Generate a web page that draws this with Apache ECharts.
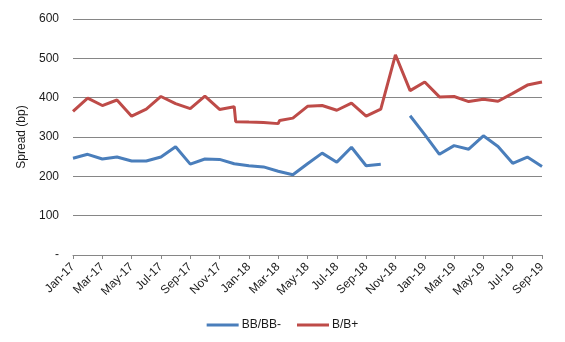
<!DOCTYPE html>
<html>
<head>
<meta charset="utf-8">
<script src="https://cdn.jsdelivr.net/npm/echarts@6/dist/echarts.min.js"></script>
<style>
html,body{margin:0;padding:0;background:#fff;}
#chart{width:565px;height:342px;}
</style>
</head>
<body>
<div id="chart"></div>
<script>
// x positions are months since Jan-17 (fractional values mark near-duplicate dates)
var tickLabels = ['Jan-17','Mar-17','May-17','Jul-17','Sep-17','Nov-17','Jan-18','Mar-18','May-18','Jul-18','Sep-18','Nov-18','Jan-19','Mar-19','May-19','Jul-19','Sep-19'];

var bbMonths = [0,1,2,3,4,5,6,7,8,9,10,11,11.1,12,13,14,14.1,15,16,17,18,19,20,21,22,23,24,25,26,27,28,29,30,31,32];
var bbValues = [246,256,244,249,239,239,249,275,231,244,243,232,229,227,224,213,216,204,232,259,236,274,227,231,null,354,306,256,278,269,303,276,233,249,225];

var bMonths = [0,1,2,3,4,5,6,7,8,9,10,11,11.1,12,13,14,14.1,15,16,17,18,19,20,21,22,23,24,25,26,27,28,29,30,31,32];
var bValues = [365,399,380,394,353,371,403,385,372,404,370,377,339,338,337,334,342,348,378,380,368,386,353,371,509,418,440,402,403,390,396,391,411,432,440];

function pairs(xs, ys){
  return xs.map(function(x,i){ return [x, ys[i] === null ? '-' : ys[i]]; });
}

var chart = echarts.init(document.getElementById('chart'), null, {renderer:'canvas'});
var font = 'Arial, "Liberation Sans", sans-serif';
chart.setOption({
  animation:false,
  backgroundColor:'#fff',
  textStyle:{fontFamily:font},
  grid:{left:73, right:23, top:19, bottom:87, containLabel:false},
  legend:{
    bottom:6, left:'center',
    icon:'rect',
    itemWidth:32, itemHeight:3, itemGap:16,
    textStyle:{fontFamily:font, fontSize:12, color:'#1a1a1a', padding:[0,0,0,-2]},
    data:['BB/BB-','B/B+']
  },
  xAxis:{
    type:'value', min:0, max:32, interval:2,
    axisLine:{show:true, lineStyle:{color:'#868686', width:1}},
    axisTick:{show:true, length:4, lineStyle:{color:'#868686'}},
    splitLine:{show:false},
    axisLabel:{
      rotate:45, margin:10, fontSize:12, color:'#1a1a1a', fontFamily:font,
      formatter:function(v){ return tickLabels[Math.round(v/2)] || ''; }
    }
  },
  yAxis:{
    type:'value', min:0, max:600, interval:100,
    name:'Spread (bp)', nameLocation:'middle', nameGap:44, nameRotate:90,
    nameTextStyle:{fontSize:12, color:'#1a1a1a', fontFamily:font},
    axisLine:{show:false},
    axisTick:{show:false},
    splitLine:{show:true, lineStyle:{color:'#868686', width:1}},
    axisLabel:{
      margin:14, fontSize:12, color:'#1a1a1a', fontFamily:font,
      formatter:function(v){ return v === 0 ? '-' : String(v); }
    }
  },
  series:[
    {name:'BB/BB-', type:'line', data:pairs(bbMonths, bbValues), symbol:'none', connectNulls:false,
     lineStyle:{color:'#4a7ebb', width:3}, itemStyle:{color:'#4a7ebb'}},
    {name:'B/B+', type:'line', data:pairs(bMonths, bValues), symbol:'none',
     lineStyle:{color:'#be4b48', width:3}, itemStyle:{color:'#be4b48'}}
  ]
});
</script>
</body>
</html>
